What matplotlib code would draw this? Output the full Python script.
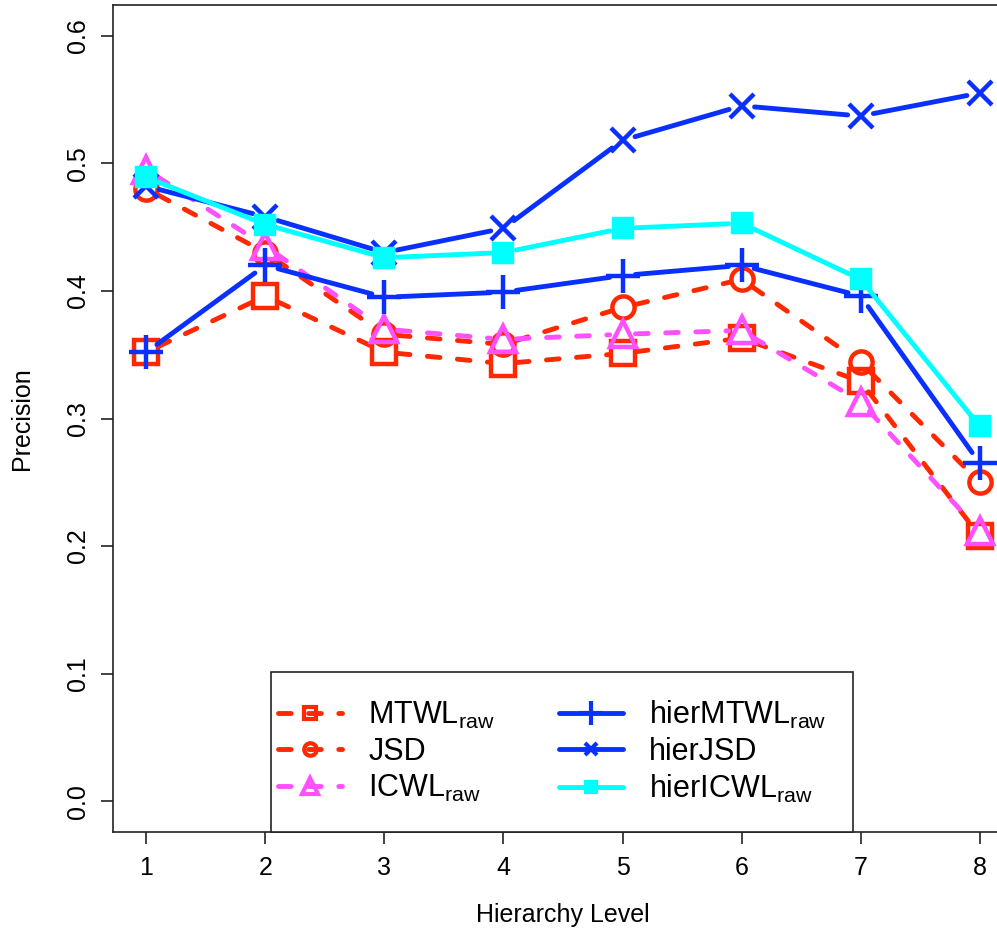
import numpy as np
import matplotlib
matplotlib.use("Agg")
import matplotlib.pyplot as plt
from matplotlib.lines import Line2D
from matplotlib.patches import Rectangle

plt.rcParams['font.family'] = ['Liberation Sans', 'DejaVu Sans']
plt.rcParams['mathtext.fontset'] = 'custom'
plt.rcParams['mathtext.rm'] = 'Liberation Sans'
plt.rcParams['mathtext.it'] = 'Liberation Sans'

levels = [1, 2, 3, 4, 5, 6, 7, 8]
MTWL_raw = [0.352, 0.396, 0.352, 0.343, 0.351, 0.363, 0.329, 0.208]
JSD = [0.480, 0.430, 0.366, 0.358, 0.387, 0.409, 0.344, 0.250]
ICWL_raw = [0.495, 0.435, 0.370, 0.362, 0.366, 0.369, 0.313, 0.212]
hierMTWL_raw = [0.352, 0.420, 0.395, 0.399, 0.412, 0.420, 0.396, 0.265]
hierJSD = [0.482, 0.458, 0.430, 0.449, 0.518, 0.545, 0.537, 0.555]
hierICWL_raw = [0.489, 0.452, 0.426, 0.430, 0.449, 0.453, 0.409, 0.294]

labels = [r'MTWL$_{\mathrm{raw}}$', 'JSD', r'ICWL$_{\mathrm{raw}}$',
          r'hierMTWL$_{\mathrm{raw}}$', 'hierJSD', r'hierICWL$_{\mathrm{raw}}$']
x_ticks = [1, 2, 3, 4, 5, 6, 7, 8]
y_ticks = [0.0, 0.1, 0.2, 0.3, 0.4, 0.5, 0.6]
y_ticklabels = ['0.0', '0.1', '0.2', '0.3', '0.4', '0.5', '0.6']

RED = '#FF2800'
BLUE = '#0A30FF'
MAG = '#FF50FF'
CYAN = '#00FFFF'

series = [
    (MTWL_raw, RED, 'dashed', 's', 17, 'none', 9),
    (JSD, RED, 'dashed', 'o', 16, 'none', 9),
    (ICWL_raw, MAG, 'dashed', '^', 19, 'none', 11),
    (hierMTWL_raw, BLUE, 'solid', '+', 24, None, 17),
    (hierJSD, BLUE, 'solid', 'x', 17, None, 9),
    (hierICWL_raw, CYAN, 'solid', 's', 13, None, 7),
]

W, H = 997, 934
AX_L, AX_R, AX_T, AX_B = 113, 1013, 5, 832
fig = plt.figure(figsize=(W / 100, H / 100), dpi=100)
ax = fig.add_axes([AX_L / W, (H - AX_B) / H, (AX_R - AX_L) / W, (AX_B - AX_T) / H])
ax.set_xlim(0.72, 8.28)
ax.set_ylim(-0.024, 0.624)
AW, AH = AX_R - AX_L, AX_B - AX_T

LW = 3.5
GAP = 13.0
DASH = (2.6, 3.6)


def gapped_line(ax, xs, ys, color, ls, z):
    pts = ax.transData.transform(np.column_stack([xs, ys]))
    inv = ax.transData.inverted()
    for p0, p1 in zip(pts[:-1], pts[1:]):
        d = p1 - p0
        L = np.hypot(d[0], d[1])
        if L <= 2 * GAP:
            continue
        u = d / L
        a = inv.transform(p0 + u * GAP)
        b = inv.transform(p1 - u * GAP)
        kw = dict(color=color, lw=LW, solid_capstyle='round',
                  dash_capstyle='round', zorder=z)
        if ls == 'dashed':
            kw['dashes'] = DASH
        ax.plot([a[0], b[0]], [a[1], b[1]], **kw)


handles = []
for i, (vals, col, ls, mk, ms, fc, lms) in enumerate(series):
    z = 3 + i
    gapped_line(ax, levels, vals, col, ls, z)
    face = col if fc is None else fc
    ax.plot(levels, vals, linestyle='none', marker=mk, markersize=ms,
            markeredgecolor=col, markerfacecolor=face, markeredgewidth=3.2,
            zorder=z + 0.5)
    h = Line2D([0], [0], color=col, lw=LW, marker=mk, markersize=lms,
               markeredgecolor=col, markerfacecolor=face, markeredgewidth=3.0,
               solid_capstyle='round', dash_capstyle='round')
    if ls == 'dashed':
        h.set_dashes(DASH)
    handles.append(h)

for s in ['left', 'bottom', 'top', 'right']:
    ax.spines[s].set_linewidth(1.2)
    ax.spines[s].set_color('#222222')

ax.set_xticks(x_ticks)
ax.set_xticklabels([str(v) for v in x_ticks], fontsize=18)
ax.set_yticks(y_ticks)
ax.set_yticklabels(y_ticklabels, fontsize=18, rotation=90, va='center')
ax.tick_params(axis='both', direction='out', length=8.6, width=1.2, color='#222222')
ax.tick_params(axis='x', pad=9)
ax.tick_params(axis='y', pad=8)

ax.set_xlabel('Hierarchy Level', fontsize=18)
ax.xaxis.set_label_coords(0.5, -(915 - AX_B) / AH)
ax.xaxis.label.set_va('center')
ax.set_ylabel('Precision', fontsize=18)
ax.yaxis.set_label_coords(-(AX_L - 22) / AW, 0.5)
ax.yaxis.label.set_va('center')

# legend box
box_l, box_r, box_t, box_b = 271, 853, 672, 832
ax.add_patch(Rectangle(((box_l - AX_L) / AW, (AX_B - box_b) / AH),
                       (box_r - box_l) / AW, (box_b - box_t) / AH,
                       transform=ax.transAxes, facecolor='white',
                       edgecolor='#222222', linewidth=1.2, zorder=19,
                       clip_on=False))
leg = ax.legend(handles, labels, loc='center left', ncol=2,
                bbox_to_anchor=((278 - AX_L) / AW, (AX_B - (box_t + box_b) / 2) / AH),
                fontsize=22, frameon=False,
                handlelength=2.1, handletextpad=0.85, labelspacing=0.2,
                borderpad=0.0, borderaxespad=0.0, columnspacing=2.1,
                numpoints=1)
leg.set_zorder(20)

fig.savefig('out.png', dpi=100)
